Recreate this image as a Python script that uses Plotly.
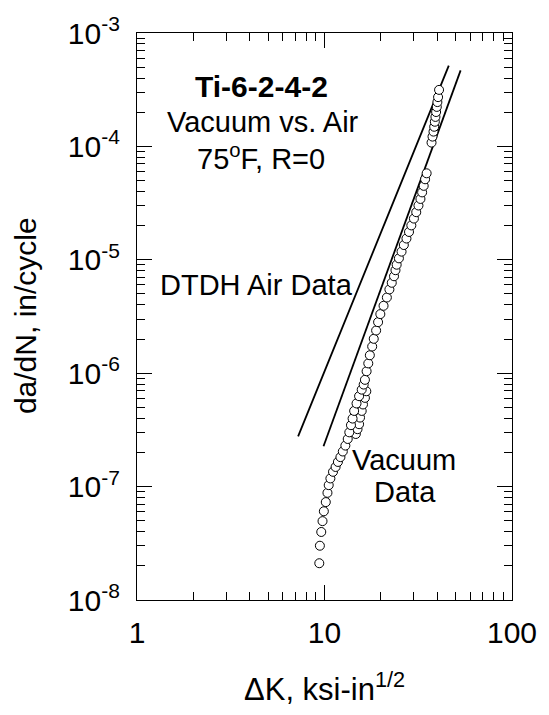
import plotly.graph_objects as go

# ---- data ----
# main vacuum data chain (dK, da/dN)
vac_dk = [9.38, 9.45, 9.61, 9.76, 9.92, 10.16, 10.37, 10.53, 10.75, 11.10,
          11.46, 11.79, 12.16, 12.52, 12.92, 13.30, 13.56, 13.84, 14.12, 14.39,
          14.82, 15.29, 15.79, 16.18, 16.43, 16.77, 17.12, 17.45, 17.96, 18.31,
          18.85, 19.31, 19.85, 20.65, 21.51, 22.19, 22.84, 23.48, 23.91, 24.26,
          24.94, 25.76, 26.49, 27.36, 28.23, 29.05, 29.98, 30.85, 31.71, 32.49,
          33.16, 33.81, 34.39, 35.05]
vac_dadn = [2.11e-8, 3.01e-8, 3.98e-8, 4.96e-8, 6.06e-8, 7.30e-8, 8.81e-8, 1.03e-7, 1.18e-7, 1.35e-7,
            1.49e-7, 1.65e-7, 1.82e-7, 2.04e-7, 2.30e-7, 2.63e-7, 3.01e-7, 3.48e-7, 3.98e-7, 4.65e-7,
            5.41e-7, 6.27e-7, 7.16e-7, 7.94e-7, 8.74e-7, 1.04e-6, 1.22e-6, 1.44e-6, 1.72e-6, 2.01e-6,
            2.38e-6, 2.82e-6, 3.32e-6, 3.93e-6, 4.65e-6, 5.48e-6, 6.27e-6, 7.16e-6, 8.10e-6, 9.05e-6,
            1.03e-5, 1.18e-5, 1.35e-5, 1.54e-5, 1.76e-5, 2.01e-5, 2.31e-5, 2.63e-5, 3.01e-5, 3.44e-5,
            3.93e-5, 4.49e-5, 5.13e-5, 5.79e-5]

# second short branch
vac2_dk = [14.69, 15.00, 15.29, 15.47, 15.79, 16.04, 16.43, 16.71]
vac2_dadn = [2.91e-7, 3.21e-7, 3.55e-7, 4.06e-7, 4.65e-7, 5.30e-7, 6.06e-7, 6.93e-7]

# upper cluster
vac3_dk = [37.23, 37.67, 38.13, 38.46, 38.77, 39.05, 39.38, 39.72, 40.00, 40.34, 40.83]
vac3_dadn = [1.08e-4, 1.22e-4, 1.35e-4, 1.49e-4, 1.65e-4, 1.82e-4, 2.01e-4, 2.23e-4, 2.46e-4, 2.72e-4, 3.15e-4]

# fitted lines (end points)
air_line_dk = [7.23, 46.0]
air_line_dadn = [2.77e-7, 5.16e-4]
vac_line_dk = [9.88, 53.2]
vac_line_dadn = [2.27e-7, 4.68e-4]

x_tickvals = [1, 10, 100]
x_ticktext = ["1", "10", "100"]
y_tickvals = [1e-8, 1e-7, 1e-6, 1e-5, 1e-4, 1e-3]
y_ticktext = ["10<sup>-8</sup>", "10<sup>-7</sup>", "10<sup>-6</sup>",
              "10<sup>-5</sup>", "10<sup>-4</sup>", "10<sup>-3</sup>"]

FONT = "Liberation Sans, Arial, sans-serif"

fig = go.Figure()

line_style = dict(color="black", width=1.8)
fig.add_trace(go.Scatter(x=air_line_dk, y=air_line_dadn, mode="lines",
                         line=line_style, showlegend=False, hoverinfo="skip"))
fig.add_trace(go.Scatter(x=vac_line_dk, y=vac_line_dadn, mode="lines",
                         line=line_style, showlegend=False, hoverinfo="skip"))

marker_style = dict(symbol="circle", size=9, color="white",
                    line=dict(color="black", width=1))
for xs, ys in [(vac2_dk, vac2_dadn), (vac_dk, vac_dadn), (vac3_dk, vac3_dadn)]:
    fig.add_trace(go.Scatter(x=xs, y=ys, mode="markers", marker=marker_style,
                             showlegend=False))

axis_common = dict(
    type="log",
    showline=True, linecolor="black", linewidth=1.3,
    mirror="ticks", ticks="inside", ticklen=15, tickwidth=1.2, tickcolor="black",
    showgrid=False, zeroline=False,
    tickfont=dict(family=FONT, size=30, color="black"),
    minor=dict(ticks="inside", ticklen=8, tickwidth=1, tickcolor="black",
               dtick="D1", showgrid=False),
)

fig.update_xaxes(range=[0, 2], tickmode="array", tickvals=x_tickvals,
                 ticktext=x_ticktext, ticklabelstandoff=6, **axis_common)
fig.update_yaxes(range=[-8, -3], tickmode="array", tickvals=y_tickvals,
                 ticktext=y_ticktext, ticklabelstandoff=10, **axis_common)

L, R, T, B = 137, 30, 25, 115
W, H = 549, 715
pw, ph = W - L - R, H - T - B

def px(x):
    return (x - L) / pw

def py(y):
    return (H - B - y) / ph

annos = [
    dict(text="<b>Ti-6-2-4-2</b>", x=px(264), y=py(79), size=30),
    dict(text="Vacuum vs. Air", x=px(265), y=py(115), size=29),
    dict(text="75<sup>o</sup>F, R=0", x=px(263), y=py(151), size=29),
    dict(text="DTDH Air Data", x=px(259), y=py(281), size=29),
    dict(text="Vacuum", x=px(409), y=py(458), size=29),
    dict(text="Data", x=px(410), y=py(490), size=29),
    dict(text="ΔK, ksi-in<sup>1/2</sup>", x=px(328), y=py(688), size=31),
]
for a in annos:
    fig.add_annotation(text=a["text"], x=a["x"], y=a["y"], xref="paper", yref="paper",
                       xanchor="center", yanchor="middle", showarrow=False,
                       font=dict(family=FONT, size=a["size"], color="black"))

fig.add_annotation(text="da/dN, in/cycle", x=px(23), y=py(312), xref="paper", yref="paper",
                   xanchor="center", yanchor="middle", showarrow=False, textangle=-90,
                   font=dict(family=FONT, size=30, color="black"))

fig.update_layout(
    width=W, height=H,
    margin=dict(l=L, r=R, t=T, b=B, pad=0),
    paper_bgcolor="white", plot_bgcolor="white",
    showlegend=False,
)

fig.write_html("out.html")
